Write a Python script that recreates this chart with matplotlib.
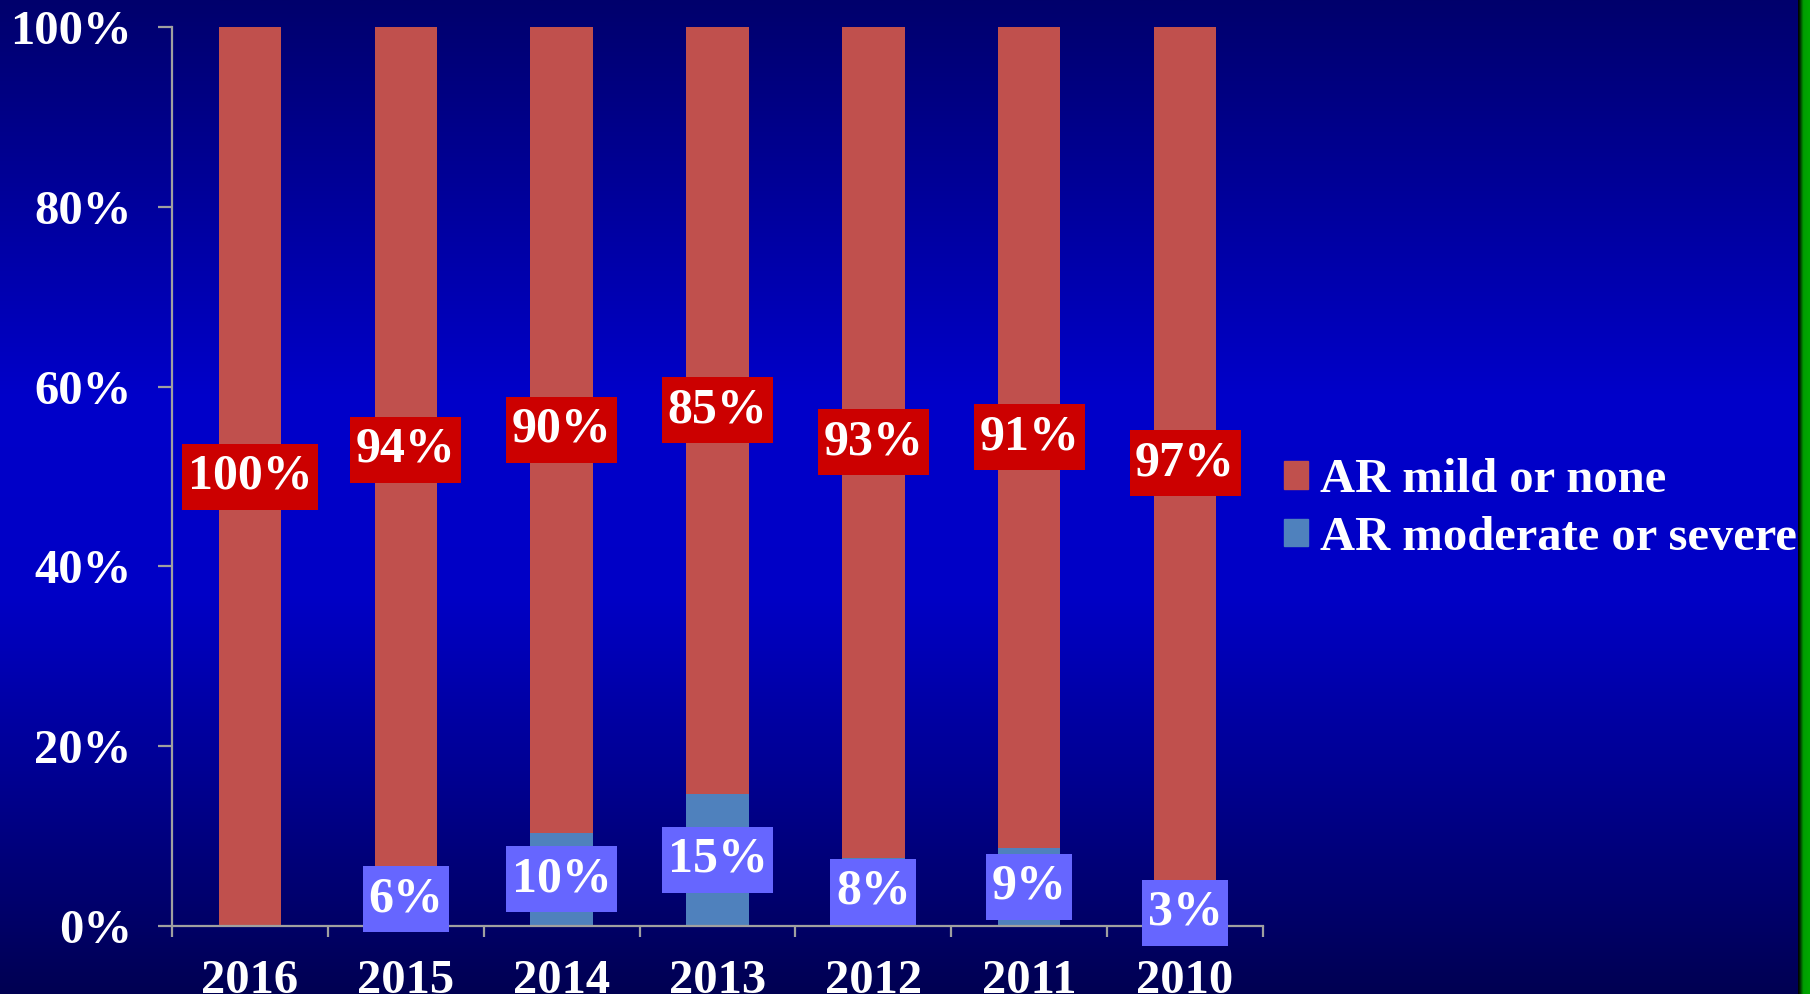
import numpy as np
import matplotlib
matplotlib.use("Agg")
import matplotlib.pyplot as plt
from matplotlib.patches import Patch
from matplotlib.path import Path

# data
years = ["2016", "2015", "2014", "2013", "2012", "2011", "2010"]
moderate = [0, 6, 10.4, 14.7, 7.6, 8.7, 3]          # AR moderate or severe (bottom)
mild = [100 - v for v in moderate]                  # AR mild or none (top)
mild_labels = ["100%", "94%", "90%", "85%", "93%", "91%", "97%"]
moderate_labels = ["", "6%", "10%", "15%", "8%", "9%", "3%"]
yticks = [0, 20, 40, 60, 80, 100]

red = "#C0504D"
blue = "#4F81BD"
font = "Liberation Serif"

plt.rcParams["font.family"] = [font, "DejaVu Serif"]
plt.rcParams["font.weight"] = "bold"


def label_box(x0, y0, width, height, mutation_size):
    # square box, a little more padding top/bottom than left/right
    px = 0.11 * mutation_size
    py = 0.2 * mutation_size
    x0, y0 = x0 - px, y0 - py
    x1, y1 = x0 + width + 2 * px, y0 + height + 2 * py
    return Path([(x0, y0), (x1, y0), (x1, y1), (x0, y1), (x0, y0)], closed=True)


fig = plt.figure(figsize=(18.1, 9.94), dpi=100)

# background gradient (dark navy -> bright blue -> dark navy)
bg = fig.add_axes([0, 0, 1, 1], zorder=-10)
t = np.linspace(0, 1, 500)
b = np.interp(t, [0, 0.4, 0.6, 1.0], [0x6C, 0xCA, 0xC6, 0x52]) / 255
grad = np.zeros((500, 1, 3))
grad[:, 0, 2] = b
bg.imshow(grad, aspect="auto", extent=[0, 1, 0, 1])
# green strip on the right edge
g = np.linspace(0, 1, 50)
strip = np.zeros((1, 50, 3))
strip[0, :, 1] = np.interp(g, [0, 0.12, 0.45, 1], [0, 0.1, 0.62, 0.66])
bg.imshow(strip, aspect="auto", extent=[1798 / 1810, 1, 0, 1])
bg.set_xlim(0, 1)
bg.set_ylim(0, 1)
bg.axis("off")

ax = fig.add_axes([172 / 1810, 1 - 926 / 994, (1263 - 172) / 1810, (926 - 27) / 994])
ax.patch.set_alpha(0)

x = np.arange(len(years))
ax.bar(x, moderate, width=0.4, color=blue, zorder=2)
ax.bar(x, mild, width=0.4, bottom=moderate, color=red, zorder=2)

for i in range(len(years)):
    ax.text(x[i], moderate[i] + mild[i] / 2, mild_labels[i], ha="center", va="center",
            fontsize=36, color="white", fontweight="bold", zorder=5,
            bbox=dict(boxstyle=label_box, fc="#CC0000", ec="none"))
    if moderate_labels[i]:
        ax.text(x[i], moderate[i] / 2, moderate_labels[i], ha="center", va="center",
                fontsize=36, color="white", fontweight="bold", zorder=5,
                bbox=dict(boxstyle=label_box, fc="#6666FF", ec="none"))

ax.set_xlim(-0.5, len(years) - 0.5)
ax.set_ylim(0, 100)

ax.set_xticks(np.arange(len(years) + 1) - 0.5)
ax.set_xticklabels([])
ax.set_xticks(x, minor=True)
ax.set_xticklabels(years, minor=True)
ax.tick_params(axis="x", which="major", length=8, width=1.6, color="#A0A0A0", direction="out")
ax.tick_params(axis="x", which="minor", length=0, pad=24, labelsize=35, labelcolor="white")

ax.set_yticks(yticks)
ax.set_yticklabels([f"{v}%" for v in yticks])
ax.tick_params(axis="y", length=10, width=1.6, color="#A0A0A0", direction="out",
               pad=19, labelsize=35, labelcolor="white")

for s in ["top", "right"]:
    ax.spines[s].set_visible(False)
for s in ["left", "bottom"]:
    ax.spines[s].set_color("#A0A0A0")
    ax.spines[s].set_linewidth(1.6)

handles = [Patch(color=red, label="AR mild or none"),
           Patch(color=blue, label="AR moderate or severe")]
fig.legend(handles=handles, loc="center left", bbox_to_anchor=(1284 / 1810, 1 - 509 / 994),
           frameon=False, fontsize=35, labelcolor="white", handlelength=0.5, handleheight=0.5,
           handletextpad=0.25, labelspacing=0.28, borderpad=0, borderaxespad=0)

plt.savefig("out.png", dpi=100)
